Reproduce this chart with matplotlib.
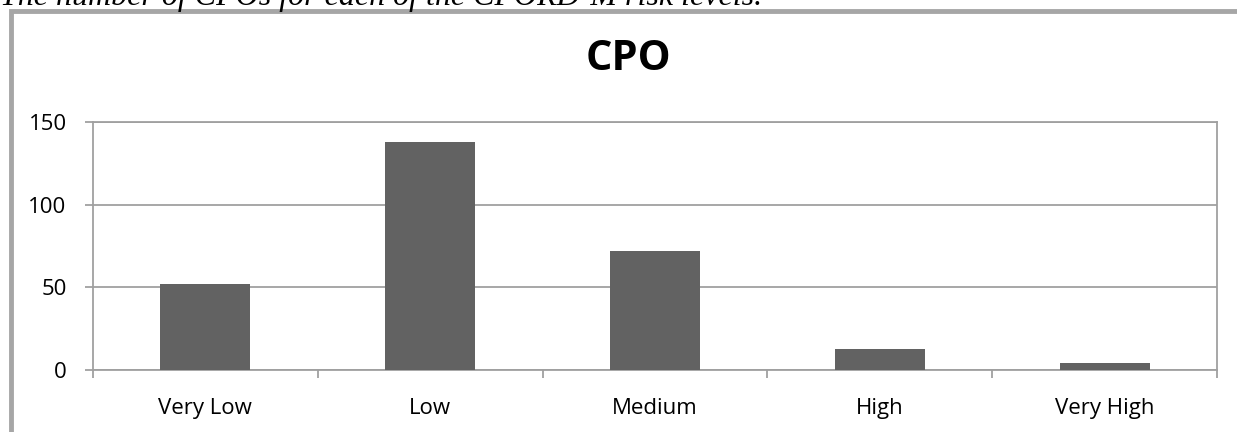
import matplotlib as mpl
mpl.use('Agg')
import matplotlib.pyplot as plt
from matplotlib.patches import Rectangle

categories = ['Very Low', 'Low', 'Medium', 'High', 'Very High']
counts = [52, 138, 72, 13, 4]
y_ticks = [0, 50, 100, 150]

W, H = 1237, 432
grey = '#a0a0a0'

fig = plt.figure(figsize=(W / 100, H / 100), dpi=100)

# caption line above the chart, mostly cut off by the page edge
fig.text(0.0, 1 - 5 / H, 'The number of CPOs for each of the CPORD-M risk levels.',
         family='Liberation Serif', style='italic', fontsize=23, va='baseline', ha='left')

# chart frame (runs off the right and bottom)
fig.patches.append(Rectangle((11 / W, -0.1), 1.2, (H - 11) / H + 0.1,
                             transform=fig.transFigure, fill=False,
                             edgecolor='#a6a6a6', linewidth=3.5))

ax = fig.add_axes([93 / W, 62 / H, (1217 - 93) / W, 248 / H])
x = range(1, len(categories) + 1)
ax.bar(x, counts, width=0.4, color='#626262', zorder=3)

ax.set_xlim(0.5, len(categories) + 0.5)
ax.set_ylim(0, 150)
ax.set_yticks(y_ticks)
ax.set_xticks(list(x))
ax.set_xticklabels(categories)
ax.set_xticks([i + 0.5 for i in range(len(categories) + 1)], minor=True)

ax.grid(axis='y', color=grey, linewidth=1.3, zorder=0)
for s in ax.spines.values():
    s.set_color(grey)
    s.set_linewidth(1.3)

ax.tick_params(axis='x', which='major', length=0, pad=20, labelsize=16)
ax.tick_params(axis='x', which='minor', length=6, width=1.3, color=grey)
ax.tick_params(axis='y', length=6, width=1.3, color=grey, pad=13, labelsize=16)
for lbl in ax.get_xticklabels() + ax.get_yticklabels():
    lbl.set_family('Open Sans')

fig.text(628 / W, 1 - 60 / H, 'CPO', family='Open Sans', weight='bold',
         fontsize=30, ha='center', va='center')

fig.savefig('out.png', dpi=100)
